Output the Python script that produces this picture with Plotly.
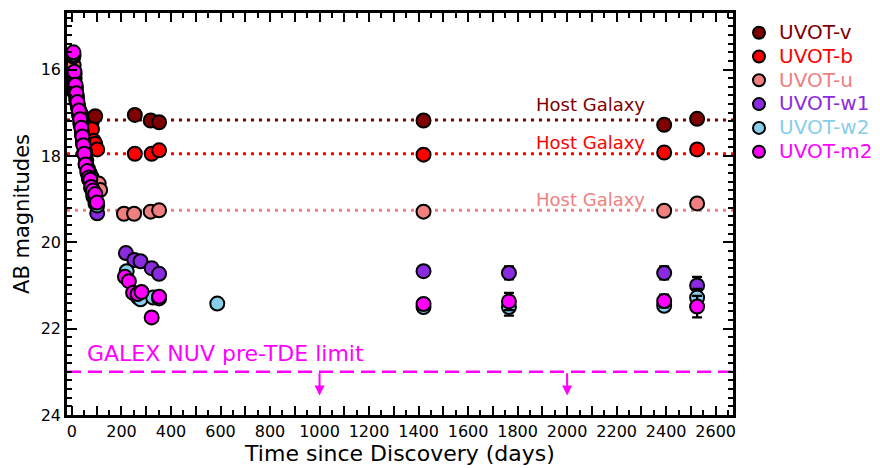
import plotly.graph_objects as go

# ---------------- data ----------------
v_days = [7, 12, 17, 22, 27, 33, 38, 44, 50, 57, 64, 72, 80, 94, 254, 318, 352, 1420, 2392, 2525]
v_mag = [16.40, 16.55, 16.70, 16.80, 16.90, 17.00, 17.05, 17.10, 17.15, 17.20, 17.20, 17.25, 17.20, 17.08, 17.05, 17.18, 17.22, 17.18, 17.28, 17.14]
v_err = [0.05] * 14 + [0.04, 0.04, 0.04, 0.05, 0.05, 0.05]

b_days = [7, 11, 16, 21, 26, 31, 36, 42, 47, 53, 59, 66, 73, 81, 88, 94, 102, 254, 322, 352, 1420, 2392, 2525]
b_mag = [16.20, 16.40, 16.55, 16.75, 16.90, 17.00, 17.10, 17.25, 17.35, 17.45, 17.50, 17.55, 17.60, 17.38, 17.65, 17.72, 17.85, 17.95, 17.95, 17.87, 17.97, 17.92, 17.85]
b_err = [0.05] * 17 + [0.04, 0.04, 0.04, 0.05, 0.05, 0.05]

u_days = [7, 11, 16, 21, 26, 31, 36, 41, 46, 52, 58, 65, 72, 80, 88, 96, 103, 108, 114, 210, 251, 318, 352, 1420, 2392, 2525]
u_mag = [15.90, 16.20, 16.45, 16.70, 16.90, 17.10, 17.30, 17.50, 17.70, 17.90, 18.10, 18.30, 18.40, 18.50, 18.60, 18.70, 18.80, 18.64, 18.79, 19.34, 19.34, 19.29, 19.26, 19.29, 19.27, 19.10]
u_err = [0.05] * 19 + [0.05, 0.05, 0.05, 0.05, 0.06, 0.06, 0.08]

w1_days = [6, 10, 15, 20, 25, 30, 35, 40, 45, 51, 57, 64, 71, 79, 87, 95, 102, 218, 252, 277, 322, 352, 1420, 1765, 2392, 2525]
w1_mag = [15.70, 16.10, 16.40, 16.65, 16.85, 17.05, 17.25, 17.45, 17.65, 17.90, 18.15, 18.35, 18.55, 18.75, 18.95, 19.10, 19.33, 20.25, 20.41, 20.44, 20.60, 20.73, 20.67, 20.71, 20.71, 21.00]
w1_err = [0.05] * 17 + [0.12, 0.08, 0.08, 0.08, 0.08, 0.08, 0.15, 0.15, 0.20]

w2_days = [6, 10, 14, 19, 24, 29, 34, 40, 45, 50, 56, 63, 70, 78, 86, 95, 102, 221, 268, 277, 328, 352, 587, 1420, 1765, 2392, 2525]
w2_mag = [15.65, 16.10, 16.40, 16.60, 16.85, 17.05, 17.25, 17.50, 17.70, 17.95, 18.20, 18.40, 18.55, 18.75, 18.90, 19.00, 19.15, 20.67, 21.28, 21.32, 21.28, 21.30, 21.42, 21.50, 21.50, 21.47, 21.28]
w2_err = [0.05] * 17 + [0.10, 0.10, 0.10, 0.10, 0.10, 0.08, 0.08, 0.20, 0.12, 0.20]

m2_days = [6, 10, 14, 18, 22, 28, 33, 38, 42, 46, 50, 55, 62, 68, 74, 78, 85, 94, 101, 214, 230, 247, 265, 281, 322, 352, 1420, 1765, 2392, 2525]
m2_mag = [15.60, 16.05, 16.35, 16.55, 16.75, 16.95, 17.15, 17.35, 17.55, 17.75, 17.95, 18.20, 18.35, 18.50, 18.55, 18.72, 18.80, 18.88, 19.08, 20.80, 20.90, 21.17, 21.20, 21.15, 21.74, 21.26, 21.43, 21.37, 21.36, 21.49]
m2_err = [0.05] * 19 + [0.10, 0.10, 0.10, 0.10, 0.10, 0.10, 0.10, 0.10, 0.20, 0.15, 0.25]

host_names = ["UVOT-v", "UVOT-b", "UVOT-u"]
host_mag = [17.17, 17.95, 19.26]
host_label_y = [16.82, 17.68, 19.00]
host_label_x = 2321

galex_limit = 23.0
galex_arrow_days = [1000, 2000]
galex_arrow_end = 23.55

x_ticks = list(range(0, 2700, 100))
y_ticks = [16, 18, 20, 22, 24]

# ---------------- styling ----------------
colors = {
    "UVOT-v": "#800000",
    "UVOT-b": "#ff0000",
    "UVOT-u": "#f08080",
    "UVOT-w1": "#8a2be2",
    "UVOT-w2": "#87ceeb",
    "UVOT-m2": "#ff00ff",
}
series = [
    ("UVOT-v", v_days, v_mag, v_err),
    ("UVOT-b", b_days, b_mag, b_err),
    ("UVOT-u", u_days, u_mag, u_err),
    ("UVOT-w1", w1_days, w1_mag, w1_err),
    ("UVOT-w2", w2_days, w2_mag, w2_err),
    ("UVOT-m2", m2_days, m2_mag, m2_err),
]
FONT = "DejaVu Sans"
X_RANGE = [-20, 2670]

fig = go.Figure()

# host galaxy lines
for name, hm in zip(host_names, host_mag):
    fig.add_trace(go.Scatter(
        x=X_RANGE, y=[hm, hm], mode="lines",
        line=dict(color=colors[name], width=3, dash="3px,5px"),
        showlegend=False, hoverinfo="skip"))

# GALEX limit line
fig.add_trace(go.Scatter(
    x=X_RANGE, y=[galex_limit, galex_limit], mode="lines",
    line=dict(color="#ff00ff", width=2.5, dash="14px,7px"),
    showlegend=False, hoverinfo="skip"))

for name, d, m, e in series:
    fig.add_trace(go.Scatter(
        x=d, y=m, mode="markers",
        error_y=dict(type="data", array=e, visible=True, color="black", thickness=2.2, width=5),
        marker=dict(size=14, color=colors[name], line=dict(color="black", width=2)),
        name=f"<span style='color:{colors[name]};font-size:20px'>{name}</span>",
        showlegend=True))

# host galaxy labels
for name, ly in zip(host_names, host_label_y):
    fig.add_annotation(x=host_label_x, y=ly, text="Host Galaxy", showarrow=False,
                       xanchor="right", yanchor="middle",
                       font=dict(family=FONT, size=18, color=colors[name]))

fig.add_annotation(x=52, y=22.57, text="GALEX NUV pre-TDE limit", showarrow=False,
                   xanchor="left", yanchor="middle",
                   font=dict(family=FONT, size=22, color="#ff00ff"))

for xd in galex_arrow_days:
    fig.add_annotation(x=xd, y=galex_arrow_end, ax=xd, ay=galex_limit,
                       xref="x", yref="y", axref="x", ayref="y",
                       showarrow=True, arrowhead=2, arrowsize=1, arrowwidth=2,
                       arrowcolor="#ff00ff", text="")

axis_common = dict(
    showline=True, linecolor="black", linewidth=2.5, mirror="allticks",
    ticks="inside", tickcolor="black", tickwidth=2, showgrid=False, zeroline=False,
    tickfont=dict(family=FONT, size=16, color="black"),
)

fig.update_xaxes(
    range=X_RANGE, tickvals=x_ticks,
    ticktext=[str(t) if t % 200 == 0 else "" for t in x_ticks],
    ticklen=9,
    minor=dict(dtick=50, tick0=0, ticks="inside", ticklen=5, tickcolor="black", tickwidth=1.5),
    title=dict(text="Time since Discovery (days)", font=dict(family=FONT, size=22, color="black"), standoff=2),
    **axis_common)
fig.update_yaxes(
    range=[24, 14.69], tickvals=y_ticks, ticklen=10,
    minor=dict(dtick=0.2, tick0=0, ticks="inside", ticklen=5, tickcolor="black", tickwidth=1.5),
    title=dict(text="AB magnitudes", font=dict(family=FONT, size=21, color="black"), standoff=6),
    **axis_common)

fig.update_layout(
    width=872, height=460,
    margin=dict(l=59, r=141, t=2, b=53),
    paper_bgcolor="white", plot_bgcolor="white",
    font=dict(family=FONT, size=16, color="black"),
    legend=dict(x=1.009, y=0.993, xanchor="left", yanchor="top",
                font=dict(family=FONT, size=16), tracegroupgap=0,
                itemsizing="constant", bgcolor="rgba(0,0,0,0)"),
)

fig.write_html("out.html")
